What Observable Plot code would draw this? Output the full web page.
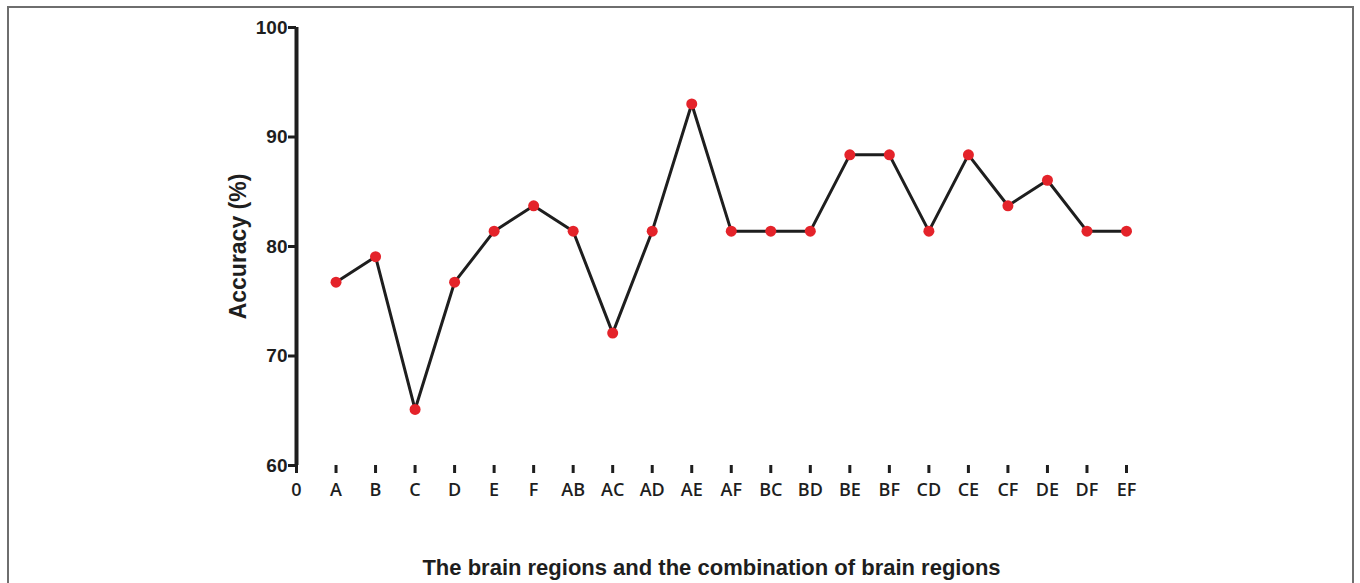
<!DOCTYPE html>
<html>
<head>
<meta charset="utf-8">
<script src="https://cdn.jsdelivr.net/npm/d3@7"></script>
<script src="https://cdn.jsdelivr.net/npm/@observablehq/plot@0.6"></script>
<style>
  html, body { margin: 0; padding: 0; background: #fff; }
  #wrap { position: relative; width: 1360px; height: 583px; overflow: hidden; }
  #frame { position: absolute; left: 7px; top: 6px; width: 1347px; height: 600px; border: 2px solid #6e6e6e; box-sizing: border-box; pointer-events: none; }
</style>
</head>
<body>
<div id="wrap"><div id="frame"></div></div>
<script>
const tickLabels = ["0","A","B","C","D","E","F","AB","AC","AD","AE","AF","BC","BD","BE","BF","CD","CE","CF","DE","DF","EF"];
const regions = ["A","B","C","D","E","F","AB","AC","AD","AE","AF","BC","BD","BE","BF","CD","CE","CF","DE","DF","EF"];
const accuracy = [76.74,79.07,65.12,76.74,81.40,83.72,81.40,72.09,81.40,93.02,81.40,81.40,81.40,88.37,88.37,81.40,88.37,83.72,86.05,81.40,81.40];
const yTicks = [60,70,80,90,100];
const xTitle = "The brain regions and the combination of brain regions";
const yTitle = "Accuracy (%)";

const data = regions.map((r, i) => ({region: r, acc: accuracy[i]}));
const ink = "#1e1e1e";

const chart = Plot.plot({
  width: 1360,
  height: 583,
  marginLeft: 296,
  marginRight: 234,
  marginTop: 27,
  marginBottom: 118,
  style: {background: "transparent", overflow: "visible"},
  x: {type: "point", domain: tickLabels, padding: 0, round: false},
  y: {domain: [60, 100]},
  marks: [
    Plot.axisY({ticks: yTicks, tickSize: 8, tickPadding: 1, strokeWidth: 3, stroke: ink, label: null,
      fontSize: 19, fontWeight: "bold", fontFamily: "Liberation Sans, Arial, sans-serif", fill: ink}),
    Plot.axisX({tickSize: 8, tickPadding: 10, strokeWidth: 3, stroke: ink, label: null,
      fontSize: 18, fontWeight: 600, fontFamily: "Open Sans, sans-serif", fill: ink}),
    Plot.ruleX(["0"], {y1: 60, y2: 100, stroke: ink, strokeWidth: 4}),
    Plot.ruleY([60], {x1: "0", x2: "EF", stroke: ink, strokeWidth: 4}),
    Plot.line(data, {x: "region", y: "acc", stroke: ink, strokeWidth: 3}),
    Plot.dot(data, {x: "region", y: "acc", r: 5.5, fill: "#e4232a", stroke: "none"}),
    Plot.text([xTitle], {frameAnchor: "bottom", dy: 109, fontSize: 22, fontWeight: "bold",
      fontFamily: "Liberation Sans, Arial, sans-serif", fill: ink, text: d => d}),
    Plot.text([yTitle], {frameAnchor: "left", textAnchor: "middle", dx: -58, rotate: -90, fontSize: 23, fontWeight: "bold",
      fontFamily: "Liberation Sans, Arial, sans-serif", fill: ink, text: d => d})
  ]
});
document.getElementById("wrap").prepend(chart);
</script>
</body>
</html>
